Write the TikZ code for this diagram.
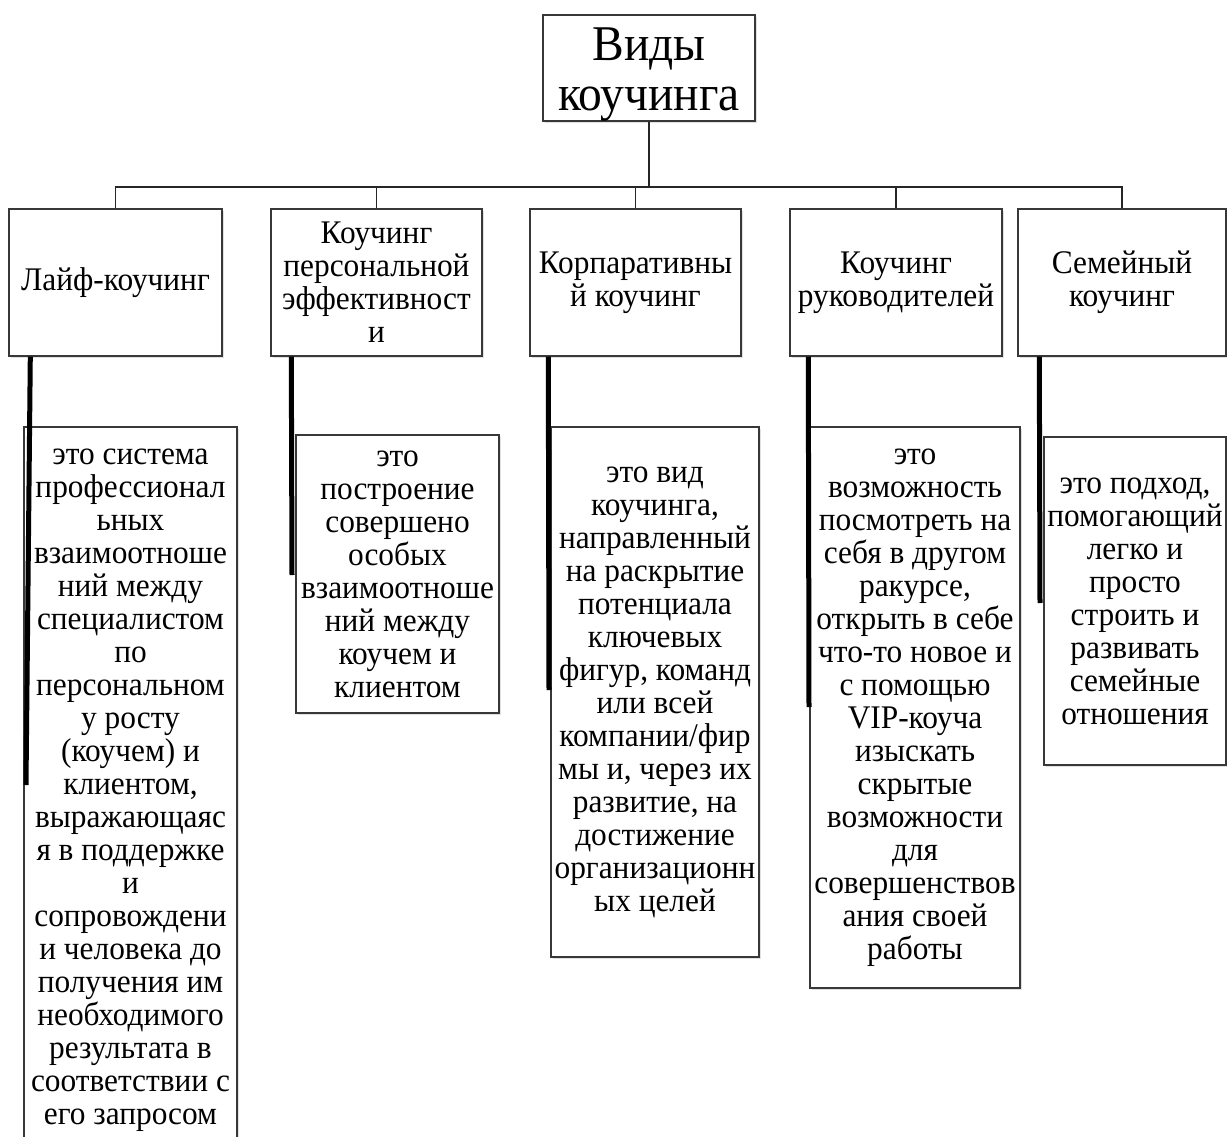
\documentclass[tikz,border=0pt]{standalone}
\usepackage{fontspec}
\setmainfont[FakeStretch=0.95]{Liberation Serif}
\usepackage{tikz}
\usetikzlibrary{positioning,shadows}
\tikzset{
  box/.style={draw=black!78, line width=1.4pt, fill=white, inner sep=0pt, align=center,
    font=\fontsize{33}{33}\selectfont,
    drop shadow={shadow xshift=2pt, shadow yshift=-2pt, opacity=.12, fill=black}},
  link/.style={line width=1.5pt, draw=black!85},
  stem/.style={line width=5pt}
}

\begin{document}
\begin{tikzpicture}[x=1pt,y=-1pt]
\useasboundingbox (0,0) rectangle (1227,1137);
\clip (0,0) rectangle (1227,1137);
\node[box,minimum width=212,minimum height=106,font=\fontsize{50}{50}\selectfont] (vidy) at (649,68) {\rule{0pt}{45pt}Виды\\коучинга};
\node[box,minimum width=213,minimum height=147] (life) at (115.5,282.5) {Лайф-коучинг};
\node[box,minimum width=211,minimum height=147] (pers) at (376.5,282.5) {Коучинг\\персональной\\эффективност\\и};
\node[box,minimum width=211,minimum height=147] (corp) at (635.5,282.5) {Корпаративны\\й коучинг};
\node[box,minimum width=212,minimum height=147] (ruk) at (896,282.5) {Коучинг\\руководителей};
\node[box,minimum width=208,minimum height=147] (sem) at (1122,282.5) {Семейный\\коучинг};
\coordinate (bus) at (649,187);
\draw[link] (vidy) -- (bus);
\foreach \k in {life,pers,corp,ruk,sem}
  \draw[link] (bus) -| (\k.north);
\node[box,minimum width=213,minimum height=726] (dlife) at (130.5,790) {это система\\профессионал\\ьных\\взаимоотноше\\ний между\\специалистом\\по\\персональном\\у росту\\(коучем) и\\клиентом,\\выражающаяс\\я в поддержке\\и\\сопровождени\\и человека до\\получения им\\необходимого\\результата в\\соответствии с\\его запросом};
\node[box,minimum width=203,minimum height=278] (dpers) at (397.5,574) {это\\построение\\совершено\\особых\\взаимоотноше\\ний между\\коучем и\\клиентом};
\node[box,minimum width=208,minimum height=530] (dcorp) at (655,692) {это вид\\коучинга,\\направленный\\на раскрытие\\потенциала\\ключевых\\фигур, команд\\или всей\\компании/фир\\мы и, через их\\развитие, на\\достижение\\организационн\\ых целей};
\node[box,minimum width=210,minimum height=561] (druk) at (915,707.5) {это\\возможность\\посмотреть на\\себя в другом\\ракурсе,\\открыть в себе\\что-то новое и\\с помощью\\VIP-коуча\\изыскать\\скрытые\\возможности\\для\\совершенствов\\ания своей\\работы};
\node[box,minimum width=182,minimum height=328] (dsem) at (1135,601) {это подход,\\помогающий\\легко и\\просто\\строить и\\развивать\\семейные\\отношения};
\coordinate (elife) at (26,785);
\coordinate (epers) at (292,575);
\coordinate (ecorp) at (549,690);
\coordinate (eruk) at (809,707);
\coordinate (esem) at (1040,603);
\draw[stem] ([xshift=22pt]life.south west) -- (elife);
\draw[stem] ([xshift=21pt]pers.south west) -- (epers);
\draw[stem] ([xshift=19pt]corp.south west) -- (ecorp);
\draw[stem] ([xshift=19pt]ruk.south west) -- (eruk);
\draw[stem] ([xshift=22pt]sem.south west) -- (esem);
\end{tikzpicture}
\end{document}
